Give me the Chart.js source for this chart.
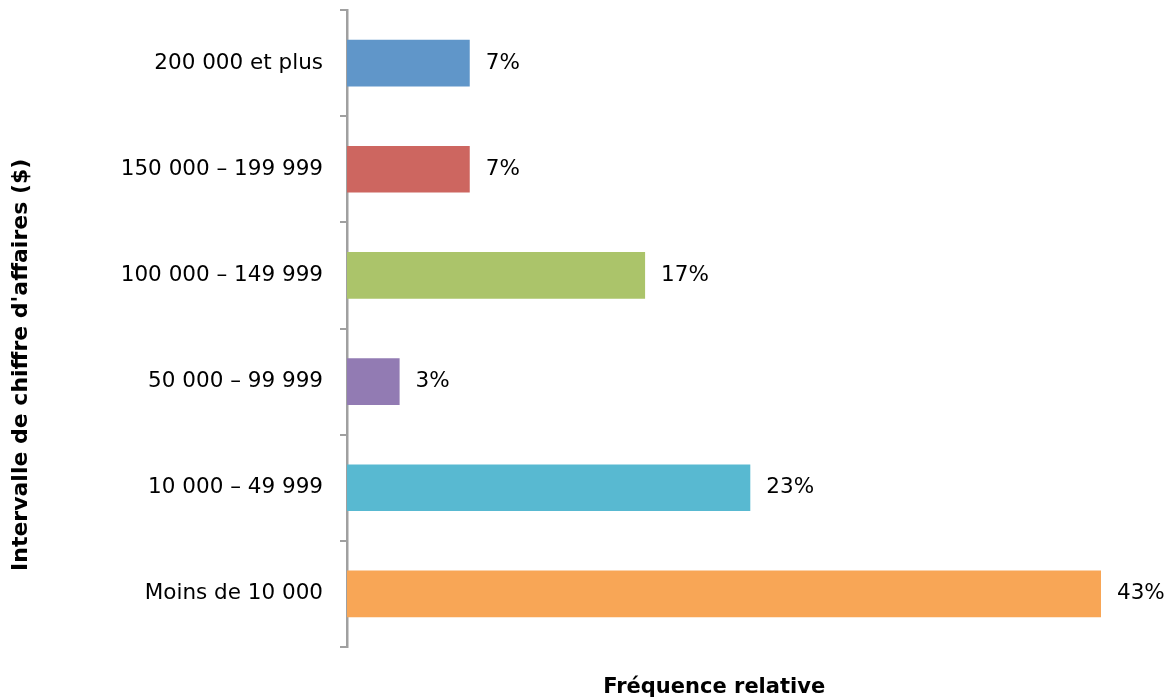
<!DOCTYPE html>
<html lang="fr">
<head>
<meta charset="utf-8">
<title>Fréquence relative par intervalle de chiffre d'affaires</title>
<script src="https://cdn.jsdelivr.net/npm/chart.js@4"></script>
<style>
    html, body { margin: 0; padding: 0; background: #ffffff; }
    #wrap { width: 1174px; height: 700px; }
</style>
</head>
<body>
<div id="wrap"><canvas id="revenueChart" width="1174" height="700"></canvas></div>
<script>
// Revenue brackets, top to bottom
const categories = [
    '200 000 et plus',
    '150 000 – 199 999',
    '100 000 – 149 999',
    '50 000 – 99 999',
    '10 000 – 49 999',
    'Moins de 10 000'
];
const shares = [7, 7, 17, 3, 23, 43];
const barColors = ['#6096c9', '#cd6660', '#abc46a', '#927bb3', '#58b9d1', '#f8a656'];

const FONT = "'DejaVu Sans', Verdana, sans-serif";

// Percent labels at the end of each bar, plus the two axis titles
const labelPlugin = {
    id: 'barLabels',
    afterDraw(chart) {
        const ctx = chart.ctx;
        const area = chart.chartArea;
        const meta = chart.getDatasetMeta(0);
        ctx.save();
        ctx.fillStyle = '#000000';
        ctx.font = `21.5px ${FONT}`;
        ctx.textAlign = 'left';
        ctx.textBaseline = 'middle';
        meta.data.forEach((bar, i) => {
            ctx.fillText(shares[i] + '%', bar.x + 16, bar.y);
        });

        ctx.font = `bold 21px ${FONT}`;
        ctx.textAlign = 'center';
        ctx.fillText('Fréquence relative', area.left + (area.right - area.left) * 0.487, 688);

        ctx.font = `bold 22px ${FONT}`;
        ctx.translate(21, area.top + (area.bottom - area.top) * 0.557);
        ctx.rotate(-Math.PI / 2);
        ctx.fillText("Intervalle de chiffre d'affaires ($)", 0, 0);
        ctx.restore();
    }
};

new Chart(document.getElementById('revenueChart').getContext('2d'), {
    type: 'bar',
    data: {
        labels: categories,
        datasets: [{
            data: shares,
            backgroundColor: barColors,
            borderWidth: 0,
            categoryPercentage: 1,
            barPercentage: 0.44
        }]
    },
    options: {
        indexAxis: 'y',
        responsive: false,
        animation: false,
        layout: { padding: { top: 10, right: 73, bottom: 53, left: 0 } },
        plugins: {
            legend: { display: false },
            tooltip: { enabled: false },
            title: { display: false }
        },
        scales: {
            x: {
                display: false,
                min: 0,
                max: 43
            },
            y: {
                afterFit(scale) {
                    scale.width = 347;
                    scale.paddingTop = 0;
                    scale.paddingBottom = 0;
                },
                grid: {
                    offset: true,
                    drawOnChartArea: false,
                    drawTicks: true,
                    tickLength: 7,
                    color: '#a0a0a0',
                    lineWidth: 2
                },
                border: { display: true, color: '#a0a0a0', width: 2.5 },
                ticks: {
                    color: '#000000',
                    padding: 17,
                    font: { family: FONT, size: 21.5 }
                }
            }
        }
    },
    plugins: [labelPlugin]
});
</script>
</body>
</html>
